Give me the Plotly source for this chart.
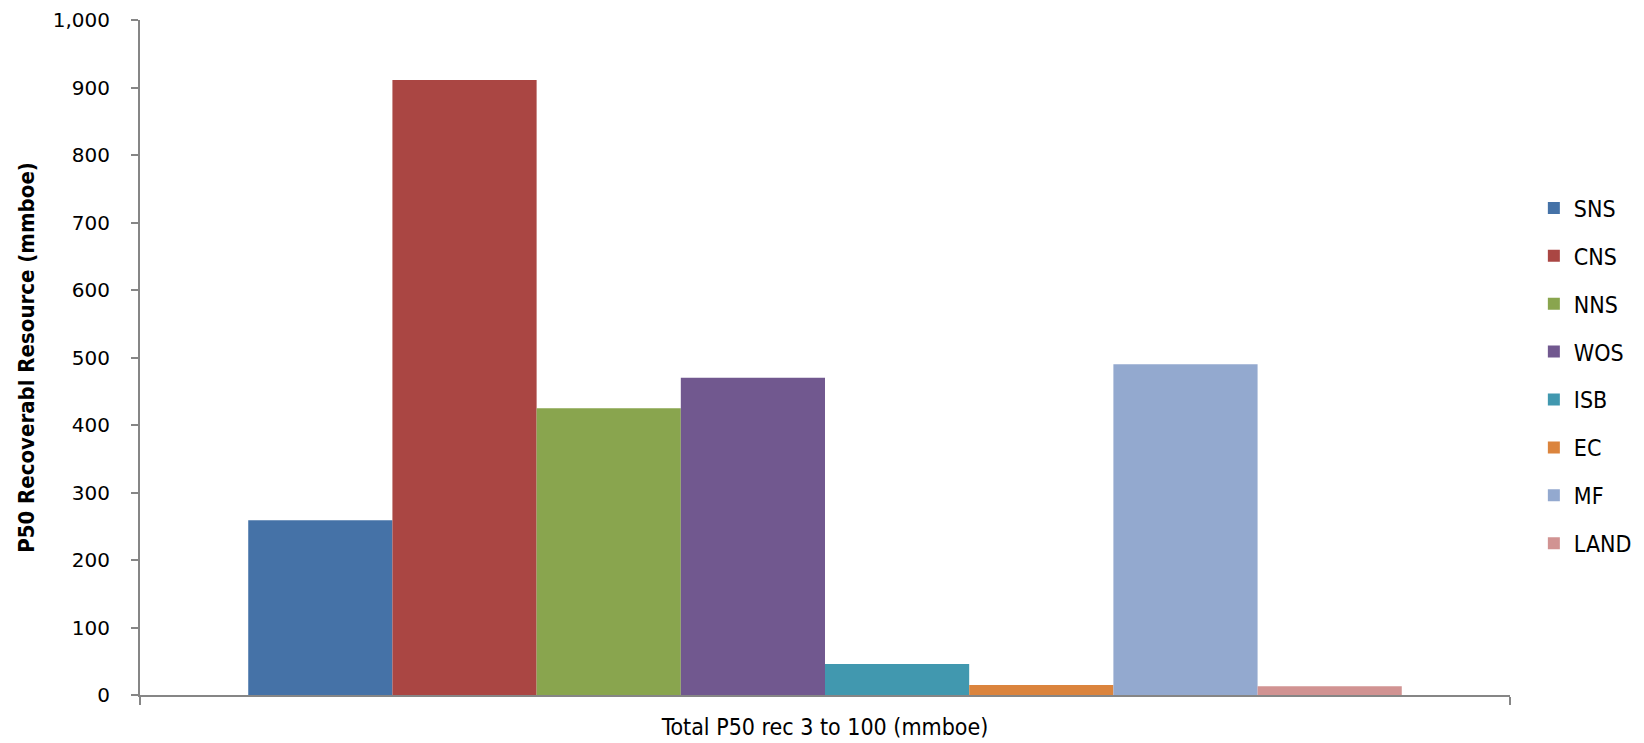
import plotly.graph_objects as go

# P50 recoverable resource by area (mmboe)
category = ["Total P50 rec 3 to 100 (mmboe)"]
areas = ["SNS", "CNS", "NNS", "WOS", "ISB", "EC", "MF", "LAND"]
values = [259, 911, 425, 470, 46, 15, 490, 13]
colors = ["#4572A7", "#AA4643", "#89A54E", "#71588F",
          "#4198AF", "#DB843D", "#93A9CF", "#D19392"]

y_ticks = list(range(0, 1001, 100))

NARROW = "DejaVu Sans Condensed, Liberation Sans Narrow, sans-serif"
AXIS_GREY = "#868686"

fig = go.Figure()
for i, (name, val, col) in enumerate(zip(areas, values, colors)):
    fig.add_trace(go.Bar(
        x=category, y=[val], name=name,
        marker=dict(color=col, line=dict(width=0)),
        legendgroup=f"g{i}",
    ))

fig.update_layout(
    width=1644, height=743,
    barmode="group", bargap=0.158, bargroupgap=0,
    plot_bgcolor="white", paper_bgcolor="white",
    margin=dict(l=140, r=134, t=20, b=48, autoexpand=False),
    legend=dict(
        xref="container", yref="container",
        x=0.933, xanchor="left", y=0.494, yanchor="middle",
        font=dict(family=NARROW, size=23, color="#000000"),
        tracegroupgap=15, itemwidth=30, maxheight=700,
    ),
    showlegend=True,
)

fig.update_yaxes(
    automargin=False,
    range=[0, 1000], tickvals=y_ticks, tickformat=",d",
    showgrid=False, zeroline=False,
    showline=True, linecolor=AXIS_GREY, linewidth=2,
    ticks="outside", ticklen=7, tickcolor=AXIS_GREY, tickwidth=1.5,
    ticklabelstandoff=17,
    tickfont=dict(family="DejaVu Sans, Verdana, sans-serif", size=20, color="#000000"),
    title=dict(text="<b>P50 Recoverabl Resource (mmboe)</b>",
               font=dict(family=NARROW, size=22, color="#000000"), standoff=12),
)

fig.update_xaxes(
    automargin=False,
    type="category", showgrid=False, zeroline=False,
    showline=True, linecolor=AXIS_GREY, linewidth=2,
    ticks="outside", tickson="boundaries", ticklen=8, tickcolor=AXIS_GREY, tickwidth=1.5,
    ticklabelstandoff=10,
    tickfont=dict(family=NARROW, size=23, color="#000000"),
)

fig.write_html("out.html")
